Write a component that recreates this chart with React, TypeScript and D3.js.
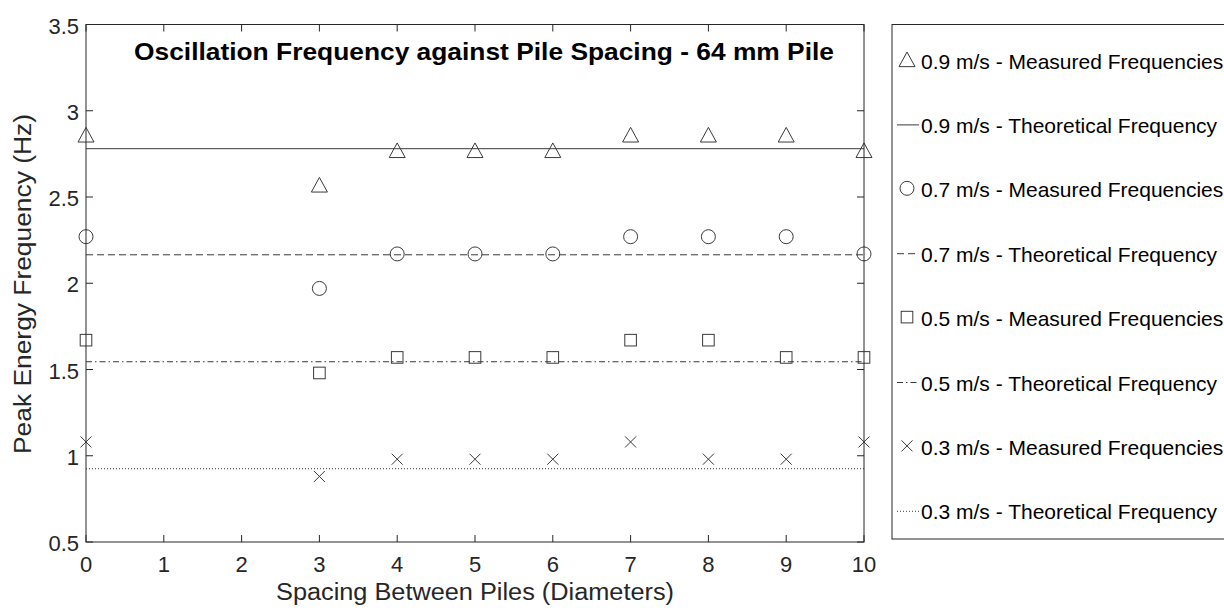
import React from "react";
import * as d3 from "d3";

const spacing = [0, 3, 4, 5, 6, 7, 8, 9, 10];
const measured09 = [2.86, 2.57, 2.77, 2.77, 2.77, 2.86, 2.86, 2.86, 2.77];
const measured07 = [2.27, 1.97, 2.17, 2.17, 2.17, 2.27, 2.27, 2.27, 2.17];
const measured05 = [1.67, 1.48, 1.57, 1.57, 1.57, 1.67, 1.67, 1.57, 1.57];
const measured03 = [1.08, 0.88, 0.98, 0.98, 0.98, 1.08, 0.98, 0.98, 1.08];
const theoretical = [2.78, 2.165, 1.545, 0.925];
const xTicks = [0, 1, 2, 3, 4, 5, 6, 7, 8, 9, 10];
const yTicks = [0.5, 1, 1.5, 2, 2.5, 3, 3.5];
const legendLabels = [
  "0.9 m/s - Measured Frequencies",
  "0.9 m/s - Theoretical Frequency",
  "0.7 m/s - Measured Frequencies",
  "0.7 m/s - Theoretical Frequency",
  "0.5 m/s - Measured Frequencies",
  "0.5 m/s - Theoretical Frequency",
  "0.3 m/s - Measured Frequencies",
  "0.3 m/s - Theoretical Frequency",
];

const W = 1224;
const H = 610;
const M = { left: 86, right: 864, top: 24.5, bottom: 542 };
const AX = "#262626";
const MK = "#3a3a3a";
const FONT = "'Liberation Sans', Arial, Helvetica, sans-serif";

type Kind = "tri" | "circ" | "sq" | "x";

function Marker({ kind, cx, cy }: { kind: Kind; cx: number; cy: number }) {
  const common = { fill: "none", stroke: MK, strokeWidth: 1 } as const;
  if (kind === "tri") {
    const w = 8, h = 7.5;
    return <path d={`M${cx},${cy - h} L${cx + w},${cy + h * 0.95} L${cx - w},${cy + h * 0.95} Z`} {...common} />;
  }
  if (kind === "circ") return <circle cx={cx} cy={cy} r={7} {...common} />;
  if (kind === "sq") return <rect x={cx - 5.8} y={cy - 5.8} width={11.6} height={11.6} {...common} />;
  const s = 5.5;
  return <path d={`M${cx - s},${cy - s} L${cx + s},${cy + s} M${cx - s},${cy + s} L${cx + s},${cy - s}`} {...common} />;
}

const dashes = [undefined, "7,4", "6,3,1.5,3", "1,2"];

export default function App() {
  const x = d3.scaleLinear().domain([0, 10]).range([M.left, M.right]);
  const y = d3.scaleLinear().domain([0.5, 3.5]).range([M.bottom, M.top]);
  const series: { kind: Kind; vals: number[] }[] = [
    { kind: "tri", vals: measured09 },
    { kind: "circ", vals: measured07 },
    { kind: "sq", vals: measured05 },
    { kind: "x", vals: measured03 },
  ];
  const tl = 7;
  const legX = 892, legTop = 24.5, legBottom = 539;
  const legY0 = 61.5, legStep = 64.4;
  return (
    <svg width={W} height={H} style={{ position: "absolute", left: 0, top: 0, background: "#fff" }} fontFamily={FONT}>
      <rect width={W} height={H} fill="#fff" />
      {theoretical.map((t, i) => (
        <line key={"t" + i} x1={x(0)} x2={x(10)} y1={y(t)} y2={y(t)} stroke={MK} strokeWidth={1} strokeDasharray={dashes[i]} />
      ))}
      {series.map((s, si) =>
        s.vals.map((v, i) => <Marker key={si + "-" + i} kind={s.kind} cx={x(spacing[i])} cy={y(v)} />)
      )}
      <rect x={M.left} y={M.top} width={M.right - M.left} height={M.bottom - M.top} fill="none" stroke={AX} strokeWidth={1} />
      {xTicks.map((t) => (
        <g key={"xt" + t}>
          <line x1={x(t)} x2={x(t)} y1={M.bottom} y2={M.bottom - tl} stroke={AX} />
          <line x1={x(t)} x2={x(t)} y1={M.top} y2={M.top + tl} stroke={AX} />
          <text x={x(t)} y={572} textAnchor="middle" fontSize={22} fill={AX}>{t}</text>
        </g>
      ))}
      {yTicks.map((t) => (
        <g key={"yt" + t}>
          <line x1={M.left} x2={M.left + tl} y1={y(t)} y2={y(t)} stroke={AX} />
          <line x1={M.right} x2={M.right - tl} y1={y(t)} y2={y(t)} stroke={AX} />
          <text x={M.left - 7} y={y(t) + 9} textAnchor="end" fontSize={22} fill={AX}>{t}</text>
        </g>
      ))}
      <text x={475} y={600} textAnchor="middle" fontSize={23} fill={AX} textLength={398} lengthAdjust="spacingAndGlyphs">Spacing Between Piles (Diameters)</text>
      <text transform={`translate(31,${284}) rotate(-90)`} textAnchor="middle" fontSize={23} fill={AX} textLength={340} lengthAdjust="spacingAndGlyphs">Peak Energy Frequency (Hz)</text>
      <text x={484} y={60} textAnchor="middle" fontSize={24} fontWeight="bold" fill="#000" textLength={700} lengthAdjust="spacingAndGlyphs">Oscillation Frequency against Pile Spacing - 64 mm Pile</text>
      <rect x={legX} y={legTop} width={400} height={legBottom - legTop} fill="#fff" stroke={AX} strokeWidth={1} />
      {legendLabels.map((lab, i) => {
        const cy = legY0 + i * legStep;
        const si = Math.floor(i / 2);
        return (
          <g key={"lg" + i}>
            {i % 2 === 0 ? (
              <Marker kind={series[si].kind} cx={907} cy={cy - 2} />
            ) : (
              <line x1={897} x2={919} y1={cy - 1} y2={cy - 1} stroke={MK} strokeWidth={1} strokeDasharray={dashes[si]} />
            )}
            <text x={921} y={cy + 7} fontSize={21} fill="#000">{lab}</text>
          </g>
        );
      })}
    </svg>
  );
}
